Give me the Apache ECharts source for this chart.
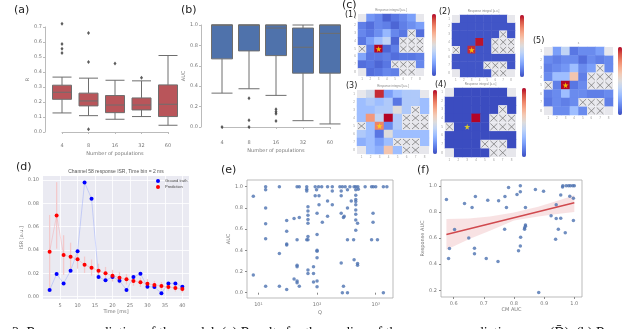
<!DOCTYPE html>
<html>
<head>
<meta charset="utf-8">
<script src="https://cdn.jsdelivr.net/npm/echarts@6/dist/echarts.min.js"></script>
<style>
html,body{margin:0;padding:0;background:#fff}
#main{width:640px;height:329px}
</style>
</head>
<body>
<div id="main"></div>
<script>
// (a) / (b) boxplots: [min, q1, median, q3, max]
var populations = ["4", "8", "16", "32", "60"];
var boxR = [
  [0.127, 0.218, 0.265, 0.312, 0.366],
  [0.109, 0.174, 0.207, 0.259, 0.359],
  [0.085, 0.129, 0.18, 0.243, 0.345],
  [0.103, 0.147, 0.18, 0.227, 0.341],
  [0.045, 0.103, 0.185, 0.314, 0.51]
];
var outR = [[0, 0.526], [0, 0.555], [0, 0.586], [0, 0.722], [1, 0.466], [1, 0.66], [1, 0.018], [2, 0.457], [3, 0.361]];
var boxAuc = [
  [0.332, 0.668, 1.0, 1.0, 1.0],
  [0.375, 0.746, 1.0, 1.0, 1.0],
  [0.31, 0.7, 0.97, 1.0, 1.0],
  [0.062, 0.528, 0.782, 0.97, 1.0],
  [0.03, 0.528, 0.918, 1.0, 1.0]
];
var outAuc = [[0, 0.0], [1, 0.283], [1, 0.065], [1, 0.0], [2, 0.175], [2, 0.15], [2, 0.13], [2, 0.06]];

// (c) electrode layout: 0 = channel, 1 = empty corner, 2 = crossed out
var mask = [
  [1, 0, 0, 0, 0, 0, 0, 1],
  [0, 0, 0, 0, 0, 0, 0, 0],
  [0, 0, 0, 0, 0, 0, 2, 0],
  [0, 0, 0, 0, 0, 2, 2, 2],
  [2, 0, 0, 0, 0, 2, 2, 2],
  [0, 0, 0, 0, 0, 0, 0, 0],
  [0, 0, 0, 0, 2, 2, 2, 0],
  [1, 0, 0, 0, 0, 2, 2, 1]
];
var heat1 = [
  [0, 0.18, 0.14, 0.05, 0.1, 0.14, 0.2, 0],
  [0.12, 0.08, 0.14, 0.12, 0.06, 0.12, 0.16, 0.2],
  [0.14, 0.1, 0.16, 0.28, 0.14, 0.1, 0, 0.08],
  [0.1, 0.2, 0.3, 0.4, 0.06, 0, 0, 0],
  [0, 0.12, 1.0, 0.06, 0.12, 0, 0, 0],
  [0.22, 0.1, 0.1, 0.12, 0.08, 0.1, 0.1, 0.12],
  [0.08, 0.1, 0.06, 0.1, 0, 0, 0, 0.14],
  [0, 0.08, 0.1, 0.14, 0.12, 0, 0, 0]
];
var heat2 = [
  [0, 0.02, 0.02, 0.02, 0.02, 0.02, 0.02, 0],
  [0.02, 0.02, 0.02, 0.02, 0.02, 0.02, 0.02, 0.02],
  [0.02, 0.02, 0.02, 0.02, 0.02, 0.02, 0, 0.02],
  [0.02, 0.02, 0.02, 0.98, 0.02, 0, 0, 0],
  [0, 0.02, 0.95, 0.02, 0.02, 0, 0, 0],
  [0.02, 0.02, 0.02, 0.02, 0.02, 0.02, 0.02, 0.02],
  [0.02, 0.02, 0.02, 0.02, 0, 0, 0, 0.02],
  [0, 0.02, 0.02, 0.02, 0.02, 0, 0, 0]
];
var heat3 = [
  [0, 0.45, 0.95, 0.2, 0.3, 0.35, 0.35, 0],
  [0.3, 0.35, 0.3, 0.35, 0.1, 0.35, 0.35, 0.3],
  [0.3, 0.3, 0.35, 0.35, 0.5, 0.35, 0, 0.3],
  [0.3, 0.75, 0.4, 1.0, 0.35, 0, 0, 0],
  [0, 0.3, 0.8, 0.15, 0.35, 0, 0, 0],
  [0.35, 0.3, 0.1, 0.5, 0.3, 0.3, 0.3, 0.3],
  [0.25, 0.3, 0.2, 0.3, 0, 0, 0, 0.3],
  [0, 0.3, 0.25, 0.62, 0.3, 0, 0, 0]
];
var heat4 = [
  [0, 0, 0, 0, 0, 0, 0, 0],
  [0, 0, 0, 0, 0, 0, 0, 0],
  [0, 0, 0, 0, 0, 0, 0, 0],
  [0, 0, 0, 1.0, 0, 0, 0, 0],
  [0, 0, 0, 0, 0, 0, 0, 0],
  [0, 0, 0, 0, 0, 0, 0, 0],
  [0, 0, 0, 0, 0, 0, 0, 0],
  [0, 0, 0, 0, 0, 0, 0, 0]
];
var heat5 = [
  [0, 0.2, 0.4, 0.1, 0.15, 0.15, 0.2, 0],
  [0.15, 0.12, 0.15, 0.15, 0.08, 0.15, 0.12, 0.15],
  [0.12, 0.15, 0.18, 0.3, 0.15, 0.2, 0, 0.15],
  [0.15, 0.3, 0.3, 0.62, 0.12, 0, 0, 0],
  [0, 0.12, 1.0, 0.1, 0.15, 0, 0, 0],
  [0.12, 0.15, 0.3, 0.15, 0.15, 0.12, 0.12, 0.15],
  [0.1, 0.15, 0.12, 0.15, 0, 0, 0, 0.12],
  [0, 0.15, 0.15, 0.3, 0.15, 0, 0, 0]
];
var heats = [heat1, heat2, heat3, heat4, heat5];
var heatTitles = ["Response integral [a.u.]", "Response integral [a.u.]", "Response integral [a.u.]", "Response integral [a.u.]", "s"];
var stimSite = [2, 4];
var channels = ["1", "2", "3", "4", "5", "6", "7", "8"];

// (d)
var timeMs = [2, 4, 6, 8, 10, 12, 14, 16, 18, 20, 22, 24, 26, 28, 30, 32, 34, 36, 38, 40];
var truth = [0.0057, 0.0194, 0.0114, 0.0223, 0.039, 0.098, 0.084, 0.0169, 0.014, 0.0169, 0.0137, 0.0057, 0.0169, 0.0197, 0.0086, 0.0083, 0.0029, 0.0114, 0.0114, 0.0086];
var pred = [0.0386, 0.0697, 0.0357, 0.0343, 0.032, 0.0274, 0.0249, 0.0223, 0.02, 0.018, 0.0163, 0.0149, 0.0134, 0.0123, 0.0111, 0.01, 0.0091, 0.0083, 0.0074, 0.0066];
var predErr = [0.0315, 0.0285, 0.017, 0.012, 0.008, 0.007, 0.007, 0.006, 0.0055, 0.005, 0.005, 0.0045, 0.004, 0.004, 0.004, 0.0035, 0.0035, 0.003, 0.003, 0.003];

// (e)
var eQ = [8.2, 8.2, 13.3, 13.3, 13.3, 13.3, 13.3, 13.3, 22.8, 22.8, 22.8, 30.4, 30.4, 30.4, 30.4, 30.4, 40.6, 40.6,
  45.7, 49.8, 45.7, 45.7, 45.7, 45.7, 45.7, 49.8, 49.8, 66.7, 66.7, 66.7, 70, 70, 70, 70, 70, 70, 70, 66.7, 70, 70,
  87, 87, 87, 93, 93, 98, 100, 100, 100, 100, 100, 100, 100, 106, 120, 108, 108, 123, 151, 151, 151, 182, 182, 182,
  245, 270, 302, 258, 258, 258, 258, 282, 290, 282, 270, 330, 330, 330, 330, 363, 383, 428, 457, 497, 420, 428,
  457, 457, 457, 457, 457, 457, 457, 457, 457, 490, 490, 490, 505, 660, 850, 910, 1000, 850, 900, 900, 1070, 1350, 1550, 1350];
var eAuc = [0.91, 0.167, 1.0, 0.97, 0.8, 0.65, 0.51, 0.06, 1.0, 0.37, 0.06, 0.68, 0.58, 0.46, 0.45, 0.03, 0.7, 0.13,
  1.0, 1.0, 0.5, 0.26, 0.245, 0.11, 0.095, 0.71, 0.06, 1.0, 0.975, 0.96, 0.81, 0.77, 0.73, 0.69, 0.655, 0.53, 0.5, 0.5, 0.215, 0.18,
  0.245, 0.18, 0.1, 1.0, 0.915, 0.97, 0.75, 0.55, 0.4, 0.39, 0.33, 0.11, 0.055, 1.0, 1.0, 0.915, 0.83, 0.665, 1.0, 0.865, 0.72, 1.0, 0.96, 0.83,
  1.0, 1.0, 1.0, 0.96, 0.915, 0.75, 0.28, 0.71, 0.72, 0.06, 0.0, 0.0, 0.97, 0.8, 0.5, 1.0, 0.865, 1.0, 1.0, 1.0, 0.5, 0.31,
  0.97, 0.92, 0.88, 0.86, 0.83, 0.78, 0.74, 0.685, 0.59, 0.655, 0.275, 0.26, 0.975, 1.0, 1.0, 1.0, 1.0, 0.5, 0.75, 0.665, 0.5, 1.0, 1.0, 0.0];

// (f)
var cmAuc = [0.576, 0.586, 0.583, 0.603, 0.636, 0.65, 0.661, 0.672, 0.669, 0.669, 0.713, 0.708, 0.749, 0.747, 0.77, 0.775, 0.769, 0.782, 0.81, 0.821,
  0.821, 0.815, 0.821, 0.822, 0.835, 0.838, 0.838, 0.835, 0.838, 0.871, 0.882, 0.898, 0.923, 0.938, 0.94, 0.94, 0.947, 0.955, 0.955, 0.961,
  0.962, 0.97, 0.973, 0.981, 0.987, 0.985, 0.995, 1.0, 0.997, 0.997];
var respAuc = [0.895, 0.52, 0.443, 0.665, 0.865, 0.6, 0.834, 0.918, 0.522, 0.48, 0.89, 0.443, 0.885, 0.42, 0.918, 0.834, 0.668, 0.987, 0.934, 1.0,
  0.954, 0.502, 0.54, 0.607, 0.676, 0.69, 0.699, 0.668, 0.834, 0.972, 0.183, 0.957, 0.77, 0.59, 0.854, 0.75, 0.668, 0.93, 0.752, 0.99,
  1.0, 0.64, 1.0, 1.0, 1.0, 0.92, 1.0, 1.0, 0.905, 0.734];
var fitX = [0.576, 1.0];
var fitY = [0.627, 0.87];
var bandX = [0.576, 0.65, 0.72, 0.8, 0.88, 0.95, 1.0];
var bandLo = [0.51, 0.59, 0.655, 0.735, 0.765, 0.785, 0.8];
var bandHi = [0.745, 0.75, 0.765, 0.795, 0.84, 0.89, 0.928];

var myChart = echarts.init(document.getElementById("main"));

var gray = "#777";
var small = { fontSize: 5, color: gray, fontFamily: "DejaVu Sans" };
var coolwarm = ["#3b4cc0", "#5977e3", "#7b9ff9", "#9ebeff", "#c0d4f5", "#dddcdc", "#f2cbb7", "#f7ac8e", "#ee8468", "#d65244", "#b40426"];
var starPath = "path://M50,0L61,35L98,35L68,57L79,91L50,70L21,91L32,57L2,35L39,35Z";

// heatmap boxes: left, top, width, height, colorbar left
var heatBoxes = [[358, 14, 66, 62, 432], [452, 15, 63, 62, 520], [357, 90, 72, 64, 433], [445, 88, 71, 69, 522], [544, 47, 69, 68, 618]];

var grids = [
  { left: 62, top: 27, width: 106, height: 105 },
  { left: 222, top: 25, width: 108, height: 102 }
];
heatBoxes.forEach(function (b) {
  grids.push({ left: b[0], top: b[1], width: b[2], height: b[3] });
});
grids.push({ left: 43, top: 176, width: 146, height: 123, show: true, backgroundColor: "#eaeaf2", borderWidth: 0 });
grids.push({ left: 247, top: 180, width: 146, height: 118, show: true, borderColor: "#aaa", borderWidth: 0.8 });
grids.push({ left: 441, top: 180, width: 141, height: 117, show: true, borderColor: "#aaa", borderWidth: 0.8 });
grids.forEach(function (g) { g.outerBoundsMode = "none"; });

function boxX(gi, off) {
  return {
    type: "category", gridIndex: gi, data: populations, boundaryGap: false, offset: off,
    axisLine: { lineStyle: { color: "#bbb" } },
    axisTick: { length: 2, lineStyle: { color: "#bbb" } },
    axisLabel: Object.assign({ margin: 4, interval: 0 }, small),
    name: "Number of populations", nameLocation: "middle", nameGap: 12, nameTextStyle: small
  };
}
function boxY(gi, off, max, step, name, gap) {
  return {
    type: "value", gridIndex: gi, min: 0, max: max, interval: step, offset: off,
    axisLine: { show: true, lineStyle: { color: "#bbb" } },
    axisTick: { show: true, length: 2, lineStyle: { color: "#bbb" } },
    axisLabel: Object.assign({ margin: 3, formatter: function (v) { return v.toFixed(1); } }, small),
    splitLine: { show: false },
    name: name, nameLocation: "middle", nameGap: gap, nameTextStyle: small
  };
}
function heatAxis(gi, isY) {
  return {
    type: "category", gridIndex: gi, data: channels, inverse: isY,
    axisLine: { show: false }, axisTick: { show: false }, splitLine: { show: false },
    axisLabel: { fontSize: 3, color: "#999", margin: 2, interval: 0 }
  };
}
function valAxis(gi, min, max, ticks, digits, name, gap, opts) {
  var a = {
    type: "value", gridIndex: gi, min: min, max: max,
    axisLine: { show: false },
    axisTick: { show: false, customValues: ticks },
    axisLabel: Object.assign({ margin: 4, customValues: ticks, formatter: function (v) { return v.toFixed(digits); } }, small),
    splitLine: { show: false },
    name: name, nameLocation: "middle", nameGap: gap, nameTextStyle: small
  };
  return Object.assign(a, opts || {});
}

var xAxes = [boxX(0, 7), boxX(1, 9)];
var yAxes = [boxY(0, 17, 0.7, 0.1, "R", 13), boxY(1, 21, 1.0, 0.2, "AUC", 15)];
for (var h = 0; h < 5; h++) {
  xAxes.push(heatAxis(2 + h, false));
  yAxes.push(heatAxis(2 + h, true));
}
var white = { show: true, lineStyle: { color: "#fff", width: 0.8 } };
var tk = { show: true, length: 2, lineStyle: { color: "#888" } };
xAxes.push(valAxis(7, 0.1, 41.9, [5, 10, 15, 20, 25, 30, 35, 40], 0, "Time [ms]", 9, { splitLine: white }));
yAxes.push(valAxis(7, -0.002, 0.1035, [0, 0.02, 0.04, 0.06, 0.08, 0.1], 2, "ISR [a.u.]", 19, { splitLine: white }));
xAxes.push({
  type: "log", logBase: 10, gridIndex: 8, min: 6.4, max: 1970,
  axisLine: { show: false }, splitLine: { show: false }, minorTick: { show: false },
  axisTick: tk,
  axisLabel: Object.assign({ margin: 4, showMinLabel: false, showMaxLabel: false, formatter: function (v) {
    return { 10: "10¹", 100: "10²", 1000: "10³" }[Math.round(v)] || "";
  } }, small),
  name: "Q", nameLocation: "middle", nameGap: 12, nameTextStyle: small
});
var e_y = valAxis(8, -0.05, 1.063, [0, 0.2, 0.4, 0.6, 0.8, 1.0], 1, "AUC", 15);
e_y.axisTick = { show: true, length: 2, customValues: [0, 0.2, 0.4, 0.6, 0.8, 1.0], lineStyle: { color: "#888" } };
yAxes.push(e_y);
var f_x = valAxis(9, 0.558, 1.0255, [0.6, 0.7, 0.8, 0.9, 1.0], 1, "CM AUC", 10);
f_x.axisTick = { show: true, length: 2, customValues: [0.6, 0.7, 0.8, 0.9, 1.0], lineStyle: { color: "#888" } };
xAxes.push(f_x);
var f_y = valAxis(9, 0.149, 1.044, [0.2, 0.4, 0.6, 0.8, 1.0], 1, "Response AUC", 15);
f_y.axisTick = { show: true, length: 2, customValues: [0.2, 0.4, 0.6, 0.8, 1.0], lineStyle: { color: "#888" } };
yAxes.push(f_y);

function boxSeries(gi, data, color, width) {
  return {
    type: "boxplot", xAxisIndex: gi, yAxisIndex: gi, data: data, boxWidth: [width, width],
    itemStyle: { color: color, borderColor: "#6e6e6e", borderWidth: 1 },
    emphasis: { disabled: true }
  };
}
function fliers(gi, data) {
  return {
    type: "scatter", xAxisIndex: gi, yAxisIndex: gi, data: data, symbol: "diamond", symbolSize: [3, 4],
    itemStyle: { color: "#333" }, clip: false
  };
}

var series = [
  boxSeries(0, boxR, "#b9555a", 19), fliers(0, outR),
  boxSeries(1, boxAuc, "#4f72ab", 21), fliers(1, outAuc)
];

function maskItem(params, api) {
  var p = api.coord([api.value(0), api.value(1)]);
  var s = api.size([1, 1]);
  var x = p[0] - s[0] / 2, y = p[1] - s[1] / 2;
  var kids = [{ type: "rect", shape: { x: x, y: y, width: s[0], height: s[1] }, style: { fill: "#e7e7ec" } }];
  if (api.value(2) === 2) {
    kids.push({ type: "line", shape: { x1: x + 1, y1: y + 1, x2: x + s[0] - 1, y2: y + s[1] - 1 }, style: { stroke: "#6f6f6f", lineWidth: 0.7 } });
    kids.push({ type: "line", shape: { x1: x + s[0] - 1, y1: y + 1, x2: x + 1, y2: y + s[1] - 1 }, style: { stroke: "#6f6f6f", lineWidth: 0.7 } });
  }
  return { type: "group", children: kids };
}

var maskData = [];
for (var r = 0; r < 8; r++) {
  for (var c = 0; c < 8; c++) {
    if (mask[r][c] > 0) maskData.push([c, r, mask[r][c]]);
  }
}

var visualMaps = [];
heats.forEach(function (vals, k) {
  var cells = [];
  for (var r = 0; r < 8; r++) {
    for (var c = 0; c < 8; c++) {
      if (mask[r][c] === 0) cells.push([c, r, vals[r][c]]);
    }
  }
  visualMaps.push({
    type: "continuous", min: 0, max: 1, seriesIndex: series.length, calculable: false,
    left: heatBoxes[k][4], top: heatBoxes[k][1], itemWidth: 4, itemHeight: heatBoxes[k][3],
    padding: 0, text: null, showLabel: false, inRange: { color: coolwarm }
  });
  series.push({ type: "heatmap", xAxisIndex: 2 + k, yAxisIndex: 2 + k, data: cells, emphasis: { disabled: true } });
  series.push({ type: "custom", xAxisIndex: 2 + k, yAxisIndex: 2 + k, data: maskData, renderItem: maskItem });
  series.push({
    type: "scatter", xAxisIndex: 2 + k, yAxisIndex: 2 + k, data: [stimSite], symbol: starPath, symbolSize: 6,
    itemStyle: { color: "#ffe600" }, z: 5
  });
});

// (d)
series.push({
  type: "custom", xAxisIndex: 7, yAxisIndex: 7,
  data: timeMs.map(function (t, i) { return [t, pred[i] - predErr[i], pred[i] + predErr[i]]; }),
  renderItem: function (params, api) {
    var lo = api.coord([api.value(0), api.value(1)]);
    var hi = api.coord([api.value(0), api.value(2)]);
    return { type: "line", shape: { x1: lo[0], y1: lo[1], x2: hi[0], y2: hi[1] }, style: { stroke: "#f3c9cb", lineWidth: 1.3 } };
  }
});
series.push({
  name: "Ground truth", type: "line", xAxisIndex: 7, yAxisIndex: 7,
  data: timeMs.map(function (t, i) { return [t, truth[i]]; }),
  symbol: "circle", symbolSize: 4, itemStyle: { color: "#0000ff" },
  lineStyle: { color: "rgba(80,110,255,0.25)", width: 1 }
});
series.push({
  name: "Prediction", type: "line", xAxisIndex: 7, yAxisIndex: 7,
  data: timeMs.map(function (t, i) { return [t, pred[i]]; }),
  symbol: "circle", symbolSize: 4, itemStyle: { color: "#ff0000" },
  lineStyle: { color: "rgba(255,80,80,0.2)", width: 1 }
});

// (e)
series.push({
  type: "scatter", xAxisIndex: 8, yAxisIndex: 8, symbolSize: 3.5,
  data: eQ.map(function (q, i) { return [q, eAuc[i]]; }),
  itemStyle: { color: "#4c72b0" }
});

// (f)
series.push({
  type: "custom", xAxisIndex: 9, yAxisIndex: 9, data: [[0.8, 0.76]],
  renderItem: function (params, api) {
    var pts = bandX.map(function (x, i) { return api.coord([x, bandHi[i]]); });
    for (var i = bandX.length - 1; i >= 0; i--) pts.push(api.coord([bandX[i], bandLo[i]]));
    return { type: "polygon", shape: { points: pts }, style: { fill: "rgba(214,96,100,0.18)" } };
  }
});
series.push({
  type: "scatter", xAxisIndex: 9, yAxisIndex: 9, symbolSize: 3.5,
  data: cmAuc.map(function (x, i) { return [x, respAuc[i]]; }),
  itemStyle: { color: "#4c72b0" }
});
series.push({
  type: "line", xAxisIndex: 9, yAxisIndex: 9, symbol: "none",
  data: fitX.map(function (x, i) { return [x, fitY[i]]; }),
  lineStyle: { color: "#d0494e", width: 1.4 }
});

var labels = [["(a)", 14, 5, 11], ["(b)", 181, 5, 11], ["(c)", 342, 0, 11], ["(1)", 345, 11, 8], ["(2)", 439, 8, 8],
  ["(3)", 346, 82, 8], ["(4)", 435, 81, 8], ["(5)", 533, 37, 8], ["(d)", 16, 162, 11], ["(e)", 221, 165, 11], ["(f)", 417, 165, 11]];
var graphics = labels.map(function (l) {
  return { type: "text", x: l[1], y: l[2], style: { text: l[0], fontSize: l[3], fontFamily: "DejaVu Sans", fill: "#222" } };
});
heatBoxes.forEach(function (b, k) {
  graphics.push({ type: "text", x: b[0] + b[2] / 2, y: b[1] - 5, style: { text: heatTitles[k], fontSize: 3, fill: "#888", align: "center" } });
});
graphics.push({ type: "text", x: 116, y: 169, style: { text: "Channel 58 response ISR, Time bin = 2 ms", fontSize: 5, fill: "#555", align: "center" } });
graphics.push({
  type: "text", x: -28, y: 326,
  style: { text: "Figure 2: Response prediction of the model. (a) Results for the median of the response prediction error (D\u0304). (b) Response", fontSize: 14, fontFamily: "Liberation Serif", fill: "#111" }
});

var option = {
  animation: false,
  grid: grids,
  xAxis: xAxes,
  yAxis: yAxes,
  visualMap: visualMaps,
  legend: {
    data: ["Ground truth", "Prediction"], orient: "vertical", left: 156, top: 179,
    itemWidth: 4, itemHeight: 4, itemGap: 2, icon: "circle", padding: 0,
    textStyle: { fontSize: 4, color: "#444" }
  },
  series: series,
  graphic: graphics
};
myChart.setOption(option);
</script>
</body>
</html>
